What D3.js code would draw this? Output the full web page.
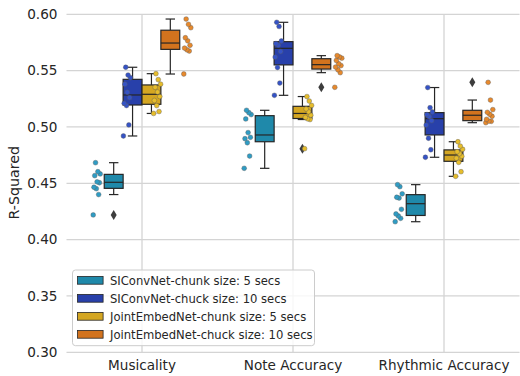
<!DOCTYPE html>
<html>
<head>
<meta charset="utf-8">
<script src="https://cdn.jsdelivr.net/npm/d3@7"></script>
<style>
  body { margin: 0; background: #fff; }
  svg { display: block; font-family: "DejaVu Sans", sans-serif; }
</style>
</head>
<body>
<svg id="chart" width="520" height="376"></svg>
<script>
// metrics on the x axis
const categories = ["Musicality", "Note Accuracy", "Rhythmic Accuracy"]
const models = [
  "SIConvNet-chunk size: 5 secs",
  "SIConvNet-chuck size: 10 secs",
  "JointEmbedNet-chunk size: 5 secs",
  "JointEmbedNet-chuck size: 10 secs"
]
const yTicks = [0.30, 0.35, 0.40, 0.45, 0.50, 0.55, 0.60]

// per-fold R-squared, one list per metric (Musicality, Note, Rhythmic)
const siconv5 = [
  [0.4219, 0.4400, 0.4452, 0.4465, 0.4505, 0.4513, 0.4568, 0.4583, 0.4603, 0.4683],
  [0.4633, 0.4742, 0.4860, 0.4896, 0.4908, 0.4950, 0.5071, 0.5110, 0.5127, 0.5148],
  [0.4159, 0.4189, 0.4210, 0.4228, 0.4269, 0.4369, 0.4376, 0.4407, 0.4470, 0.4488]
]
const siconv10 = [
  [0.4920, 0.5018, 0.5190, 0.5210, 0.5260, 0.5308, 0.5380, 0.5437, 0.5461, 0.5530],
  [0.5281, 0.5390, 0.5528, 0.5620, 0.5670, 0.5726, 0.5740, 0.5763, 0.5892, 0.5929],
  [0.4731, 0.4798, 0.4900, 0.5017, 0.5056, 0.5091, 0.5110, 0.5133, 0.5171, 0.5350]
]
const jointembed5 = [
  [0.5120, 0.5137, 0.5190, 0.5235, 0.5270, 0.5310, 0.5352, 0.5380, 0.5420, 0.5473],
  [0.4807, 0.5066, 0.5072, 0.5085, 0.5105, 0.5135, 0.5160, 0.5191, 0.5230, 0.5270],
  [0.4562, 0.4603, 0.4686, 0.4723, 0.4740, 0.4762, 0.4780, 0.4802, 0.4830, 0.4869]
]
const jointembed10 = [
  [0.5470, 0.5674, 0.5685, 0.5700, 0.5725, 0.5765, 0.5792, 0.5881, 0.5911, 0.5958],
  [0.5352, 0.5482, 0.5508, 0.5532, 0.5545, 0.5561, 0.5590, 0.5611, 0.5622, 0.5633],
  [0.5038, 0.5050, 0.5052, 0.5068, 0.5095, 0.5113, 0.5130, 0.5154, 0.5239, 0.5396]
]
const scores = [siconv5, siconv10, jointembed5, jointembed10]

const boxColors = ["#1f89aa", "#2840aa", "#d4a622", "#d2731e"]
const dotColors = ["#2f9cc4", "#3553c6", "#e6bd2c", "#e7892c"]
const lineColor = "#262626"

const svg = d3.select("#chart")

let x = d3.scaleBand()
  .domain(categories)
  .range([66.5, 519.5])
  .padding(0)

let y = d3.scaleLinear()
  .domain([0.30, 0.60])
  .range([352.3, 14.3])

// box dodge (width .5 split over 4) and strip dodge (width .8 split over 4)
let boxOffset = d3.scaleBand().domain(d3.range(4)).range([-0.25, 0.25])
let dotOffset = d3.scaleBand().domain(d3.range(4)).range([-0.4, 0.4])

function boxStats(values) {
  let v = values.slice().sort(d3.ascending)
  let q1 = d3.quantile(v, 0.25),
    med = d3.quantile(v, 0.5),
    q3 = d3.quantile(v, 0.75),
    iqr = q3 - q1
  let inside = v.filter(d => d >= q1 - 1.5 * iqr && d <= q3 + 1.5 * iqr)
  return {
    q1: q1, med: med, q3: q3,
    lo: d3.min(inside), hi: d3.max(inside),
    out: v.filter(d => d < q1 - 1.5 * iqr || d > q3 + 1.5 * iqr)
  }
}

// grid
const grid = svg.append("g")
grid.selectAll("line.h")
  .data(yTicks).enter()
  .append("line")
  .attr("x1", 66.5).attr("x2", 519.5)
  .attr("y1", d => y(d)).attr("y2", d => y(d))
  .attr("stroke", "#d4d4d4").attr("stroke-width", 1.3)
grid.selectAll("line.v")
  .data(categories).enter()
  .append("line")
  .attr("x1", d => x(d) + x.bandwidth() / 2).attr("x2", d => x(d) + x.bandwidth() / 2)
  .attr("y1", y(0.30)).attr("y2", y(0.60))
  .attr("stroke", "#d4d4d4").attr("stroke-width", 1.3)

// axes (labels only, no spines)
const yAxis = svg.append("g")
  .attr("transform", "translate(66.5,0)")
  .call(d3.axisLeft(y).tickValues(yTicks).tickFormat(d3.format(".2f")).tickSize(0).tickPadding(9))
yAxis.select(".domain").remove()
yAxis.selectAll("text").attr("font-size", 13.6).attr("fill", "#262626")
  .attr("font-family", "DejaVu Sans")

const xAxis = svg.append("g")
  .attr("transform", "translate(0,352.3)")
  .call(d3.axisBottom(x).tickSize(0).tickPadding(8))
xAxis.select(".domain").remove()
xAxis.selectAll("text").attr("font-size", 13.6).attr("fill", "#262626")
  .attr("font-family", "DejaVu Sans")

svg.append("text")
  .attr("transform", "translate(18.6,182.8) rotate(-90)")
  .attr("text-anchor", "middle")
  .attr("font-size", 14.2)
  .attr("fill", "#262626")
  .text("R-Squared")

// boxes and strips
const boxW = x.bandwidth() * 0.125
const plot = svg.append("g")

models.forEach((m, mi) => {
  categories.forEach((c, ci) => {
    let vals = scores[mi][ci],
      s = boxStats(vals),
      cx = x(c) + x.bandwidth() / 2 + (boxOffset(mi) + boxOffset.bandwidth() / 2) * x.bandwidth(),
      g = plot.append("g")

    g.append("line")
      .attr("x1", cx).attr("x2", cx).attr("y1", y(s.q3)).attr("y2", y(s.hi))
      .attr("stroke", lineColor).attr("stroke-width", 1.2)
    g.append("line")
      .attr("x1", cx).attr("x2", cx).attr("y1", y(s.q1)).attr("y2", y(s.lo))
      .attr("stroke", lineColor).attr("stroke-width", 1.2)
    g.selectAll("line.cap")
      .data([s.lo, s.hi]).enter()
      .append("line")
      .attr("x1", cx - boxW / 4).attr("x2", cx + boxW / 4)
      .attr("y1", d => y(d)).attr("y2", d => y(d))
      .attr("stroke", lineColor).attr("stroke-width", 1.2)
    g.append("rect")
      .attr("x", cx - boxW / 2).attr("width", boxW)
      .attr("y", y(s.q3)).attr("height", y(s.q1) - y(s.q3))
      .attr("fill", boxColors[mi])
      .attr("stroke", lineColor).attr("stroke-width", 1.2)
    g.append("line")
      .attr("x1", cx - boxW / 2).attr("x2", cx + boxW / 2)
      .attr("y1", y(s.med)).attr("y2", y(s.med))
      .attr("stroke", lineColor).attr("stroke-width", 1.2)
    g.selectAll("path.flier")
      .data(s.out).enter()
      .append("path")
      .attr("d", "M0,-5L3,0L0,5L-3,0Z")
      .attr("transform", d => `translate(${cx},${y(d)})`)
      .attr("fill", "#3d3d3d")

    let sx = x(c) + x.bandwidth() / 2 + (dotOffset(mi) + dotOffset.bandwidth() / 2) * x.bandwidth()
    g.selectAll("circle")
      .data(vals).enter()
      .append("circle")
      .attr("cx", (d, i) => sx + (((i * 7) % 10) / 9 - 0.5) * 7)
      .attr("cy", d => y(d))
      .attr("r", 2.4)
      .attr("fill", dotColors[mi])
      .attr("stroke", "#5a5a5a")
      .attr("stroke-width", 0.4)
  })
})

// legend
const legend = svg.append("g")
legend.append("rect")
  .attr("x", 72.5).attr("y", 270)
  .attr("width", 242).attr("height", 75.7)
  .attr("rx", 3)
  .attr("fill", "#fff").attr("fill-opacity", 0.8)
  .attr("stroke", "#cccccc").attr("stroke-width", 1)
let rows = legend.selectAll("g.row")
  .data(models).enter()
  .append("g")
  .attr("transform", (d, i) => `translate(0,${280.3 + i * 18})`)
rows.append("rect")
  .attr("x", 77.5).attr("y", -3.9)
  .attr("width", 25.6).attr("height", 7.8)
  .attr("fill", (d, i) => boxColors[i])
  .attr("stroke", lineColor).attr("stroke-width", 0.8)
rows.append("text")
  .attr("x", 110).attr("y", 4.2)
  .attr("font-size", 11.6)
  .attr("fill", "#262626")
  .text(d => d)
</script>
</body>
</html>
